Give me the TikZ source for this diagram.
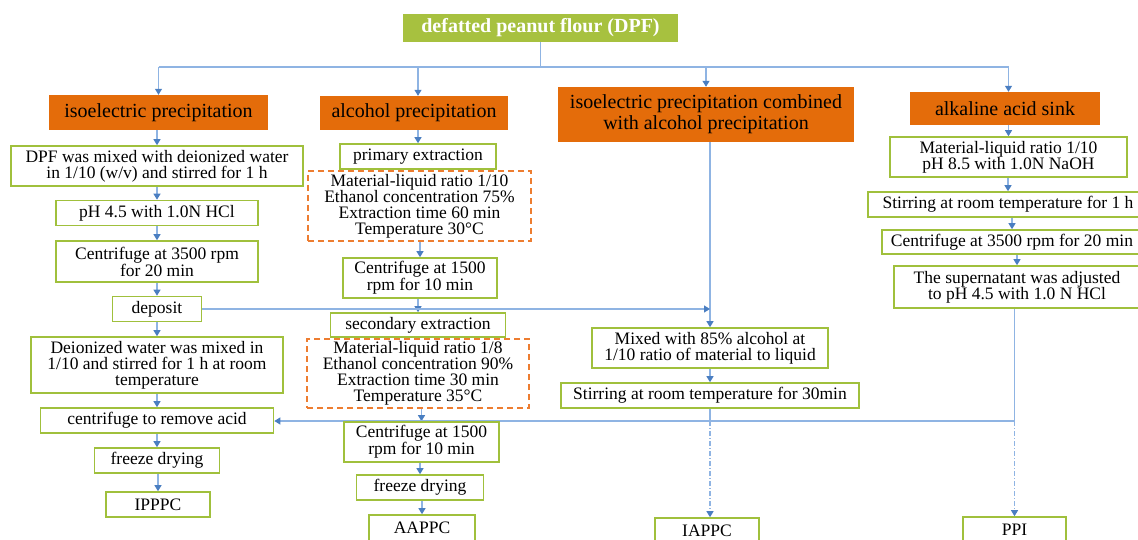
\documentclass[tikz,border=0pt]{standalone}
\usepackage{fontspec}
\setmainfont{Liberation Serif}
\usepackage{xcolor}
\definecolor{pfgreen}{RGB}{160,192,60}
\definecolor{pftop}{RGB}{167,193,63}
\definecolor{pforange}{RGB}{228,108,10}
\definecolor{pfdash}{RGB}{237,125,49}
\definecolor{pfline}{RGB}{143,180,227}
\definecolor{pftip}{RGB}{74,126,193}
\usepackage{tikz}
\usetikzlibrary{arrows.meta, backgrounds}

\begin{document}
\begin{tikzpicture}[x=1pt, y=-1pt,
  stepbox/.style={draw=pfgreen, line width=1.6pt, fill=white, align=center,
                  inner sep=0pt, font=\fontsize{17.5}{16}\selectfont},
  methodbox/.style={fill=pforange, align=center, inner sep=0pt,
                    font=\fontsize{20}{21}\selectfont},
  condbox/.style={draw=pfdash, line width=1.4pt, dash pattern=on 6pt off 4pt,
                  align=center, inner sep=0pt, font=\fontsize{17.5}{16}\selectfont},
  link/.style={draw=pfline, line width=1.1pt},
  flow/.style={link, -{Triangle[width=7pt, length=6pt, color=pftip]}},
  dashflow/.style={flow, dash pattern=on 5pt off 2pt on 1pt off 2pt}]
  \useasboundingbox (0,0) rectangle (1138,540);

  % Raw material
  \node[fill=pftop, text=white, inner sep=0pt, minimum width=275, minimum height=28,
        font=\fontsize{20}{22}\selectfont\bfseries] (dpf) at (540.5,28)
       {defatted peanut flour (DPF)};

  % Method headers
  \node[methodbox, minimum width=219, minimum height=35] (iso) at (158.5,112.5)
       {isoelectric precipitation};
  \node[methodbox, minimum width=188, minimum height=34] (alc) at (414,113)
       {alcohol precipitation};
  \node[methodbox, minimum width=296, minimum height=55] (comb) at (706,114.5)
       {isoelectric precipitation combined\\with alcohol precipitation};
  \node[methodbox, minimum width=190, minimum height=33] (alk) at (1005,108.5)
       {alkaline acid sink};

  % Isoelectric precipitation column
  \node[stepbox, minimum width=292, minimum height=40] (mix1) at (157,166)
       {DPF was mixed with deionized water\\in 1/10 (w/v) and stirred for 1 h};
  \node[stepbox, minimum width=202, minimum height=25] (ph) at (157,213)
       {pH 4.5 with 1.0N HCl};
  \node[stepbox, minimum width=202, minimum height=41] (cent1) at (157,261.5)
       {Centrifuge at 3500 rpm\\for 20 min};
  \node[stepbox, minimum width=89, minimum height=25] (deposit) at (157,309)
       {deposit};
  \node[stepbox, minimum width=252, minimum height=56] (mix2) at (157,365)
       {Deionized water was mixed in\\1/10 and stirred for 1 h at room\\temperature};
  \node[stepbox, minimum width=233, minimum height=25] (cenacid) at (157,420.5)
       {centrifuge to remove acid};
  \node[stepbox, minimum width=125, minimum height=25] (fd1) at (157,460.5)
       {freeze drying};
  \node[stepbox, minimum width=104, minimum height=25] (ipppc) at (158,504.5)
       {IPPPC};

  % Alcohol precipitation column
  \node[stepbox, minimum width=156, minimum height=25] (prim) at (418,156.5)
       {primary extraction};
  \node[condbox, minimum width=223, minimum height=70] (cond1) at (419.5,206)
       {Material-liquid ratio 1/10\\Ethanol concentration 75\%\\Extraction time 60 min\\Temperature 30°C};
  \node[stepbox, minimum width=154, minimum height=40] (cent2) at (420,278)
       {Centrifuge at 1500\\rpm for 10 min};
  \node[stepbox, minimum width=175, minimum height=24] (sec) at (418,325)
       {secondary extraction};
  \node[condbox, minimum width=222, minimum height=69] (cond2) at (418,373.5)
       {Material-liquid ratio 1/8\\Ethanol concentration 90\%\\Extraction time 30 min\\Temperature 35°C};
  \node[stepbox, minimum width=155, minimum height=40] (cent3) at (421.5,442)
       {Centrifuge at 1500\\rpm for 10 min};
  \node[stepbox, minimum width=127, minimum height=25] (fd2) at (420,487.5)
       {freeze drying};
  \node[stepbox, minimum width=106, minimum height=26] (aappc) at (422,528)
       {AAPPC};

  % Combined column
  \node[stepbox, minimum width=236, minimum height=40] (mix85) at (710,348)
       {Mixed with 85\% alcohol at\\1/10 ratio of material to liquid};
  \node[stepbox, minimum width=298, minimum height=25] (stir30) at (710,395.5)
       {Stirring at room temperature for 30min};
  \node[stepbox, minimum width=104, minimum height=25] (iappc) at (707,530.5)
       {IAPPC};

  % Alkaline acid sink column
  \node[stepbox, minimum width=237, minimum height=40] (mat) at (1008.5,157)
       {Material-liquid ratio 1/10\\pH 8.5 with 1.0N NaOH};
  \node[stepbox, minimum width=280, minimum height=25] (stir1) at (1008,204.5)
       {Stirring at room temperature for 1 h};
  \node[stepbox, minimum width=260, minimum height=24] (cent4) at (1012,242)
       {Centrifuge at 3500 rpm for 20 min};
  \node[stepbox, minimum width=246, minimum height=42] (sup) at (1017,287)
       {The supernatant was adjusted\\to pH 4.5 with 1.0 N HCl};
  \node[stepbox, minimum width=103, minimum height=25] (ppi) at (1014.5,529.5)
       {PPI};

  \begin{pgfonlayer}{background}
    % Branches from DPF
    \coordinate (topbus) at (540.5,67);
    \draw[link] (dpf.south) -- (topbus);
    \draw[link] (iso.north |- topbus) -- (mat.north |- topbus);
    \draw[flow] (iso.north |- topbus) -- (iso.north);
    \draw[flow] (prim.north |- topbus) -- (prim.north |- alc.north);
    \draw[flow] (comb.north |- topbus) -- (comb.north);
    \draw[flow] (mat.north |- topbus) -- (mat.north |- alk.north);

    % Isoelectric steps
    \draw[flow] (iso.south -| mix1.north) -- (mix1.north);
    \draw[flow] (mix1.south -| ph.north) -- (ph.north);
    \draw[flow] (ph.south -| cent1.north) -- (cent1.north);
    \draw[flow] (cent1.south -| deposit.north) -- (deposit.north);
    \draw[flow] (deposit.south -| mix2.north) -- (mix2.north);
    \draw[flow] (mix2.south -| cenacid.north) -- (cenacid.north);
    \draw[flow] (cenacid.south -| fd1.north) -- (fd1.north);
    \draw[flow] (fd1.south -| ipppc.north) -- (ipppc.north);

    % Alcohol steps
    \draw[flow] (alc.south -| prim.north) -- (prim.north);
    \draw[flow] (cond1.south -| cent2.north) -- (cent2.north);
    \draw[flow] (cent2.south -| sec.north) -- (sec.north);
    \draw[flow] (cond2.south -| cent3.north) -- (cent3.north);
    \draw[flow] (cent3.south -| fd2.north) -- (fd2.north);
    \draw[flow] (fd2.south -| aappc.north) -- (aappc.north);

    % Combined steps
    \draw[flow] (comb.south -| mix85.north) -- (mix85.north);
    \draw[flow] (deposit.east) -- (deposit.east -| mix85.north);
    \draw[flow] (mix85.south -| stir30.north) -- (stir30.north);

    % Alkaline steps
    \draw[flow] (alk.south -| mat.north) -- (mat.north);
    \draw[flow] (mat.south -| stir1.north) -- (stir1.north);
    \draw[flow] (stir1.south -| cent4.north) -- (cent4.north);
    \draw[flow] (cent4.south -| sup.north) -- (sup.north);

    % Return line and products
    \coordinate (lowbus) at (1014.5,421);
    \draw[link] (sup.south -| lowbus) -- (lowbus);
    \draw[flow] (lowbus) -- (lowbus -| cenacid.east);
    \draw[dashflow] (lowbus) -- (ppi.north);
    \draw[link] (stir30.south) -- (stir30.south |- lowbus);
    \draw[dashflow] (stir30.south |- lowbus) -- (stir30.south |- iappc.north);
  \end{pgfonlayer}
\end{tikzpicture}
\end{document}
